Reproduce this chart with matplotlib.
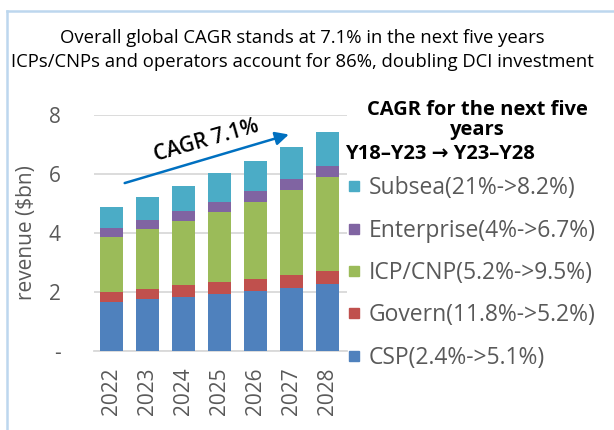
import matplotlib
matplotlib.use("Agg")
import matplotlib.pyplot as plt
from matplotlib.lines import Line2D
import numpy as np

plt.rcParams['font.family'] = ['Open Sans', 'DejaVu Sans']

# revenue by segment ($bn)
years = ['2022', '2023', '2024', '2025', '2026', '2027', '2028']
csp = [1.67, 1.75, 1.83, 1.94, 2.03, 2.14, 2.26]
govern = [0.34, 0.35, 0.40, 0.41, 0.42, 0.44, 0.46]
icp_cnp = [1.85, 2.04, 2.18, 2.37, 2.61, 2.87, 3.16]
enterprise = [0.29, 0.31, 0.32, 0.34, 0.36, 0.37, 0.39]
subsea = [0.72, 0.76, 0.86, 0.96, 1.02, 1.08, 1.14]

segments = [csp, govern, icp_cnp, enterprise, subsea]
labels = ['CSP(2.4%->5.1%)', 'Govern(11.8%->5.2%)', 'ICP/CNP(5.2%->9.5%)',
          'Enterprise(4%->6.7%)', 'Subsea(21%->8.2%)']
colors = ['#4F81BD', '#C0504D', '#9BBB59', '#8064A2', '#4BACC6']

yticks = [0, 2, 4, 6, 8]
ytick_labels = ['-', '2', '4', '6', '8']

fig = plt.figure(figsize=(6.14, 4.30), dpi=100)
ax = fig.add_axes([0.153, 0.184, 0.412, 0.549])

x = np.arange(len(years))
bottom = np.zeros(len(years))
for vals, c in zip(segments, colors):
    ax.bar(x, vals, width=0.64, bottom=bottom, color=c, zorder=3)
    bottom += np.array(vals)

ax.set_xlim(-0.49, 6.54)
ax.set_ylim(0, 8)
ax.set_yticks(yticks)
ax.set_yticklabels(ytick_labels)
ax.set_xticks(x)
ax.set_xticklabels(years, rotation=90)
ax.tick_params(axis='both', length=0, labelsize=15, colors='#595959')
ax.tick_params(axis='y', pad=24)
ax.tick_params(axis='x', pad=12)
ax.grid(axis='y', color='#D9D9D9', lw=1.3, zorder=0)
for s in ['top', 'right', 'left']:
    ax.spines[s].set_visible(False)
ax.spines['bottom'].set_color('#D9D9D9')
ax.spines['bottom'].set_linewidth(1.3)
ax.set_ylabel('revenue ($bn)', fontsize=15, color='#595959', labelpad=8)

# growth arrow
ax.annotate('', xy=(5.0, 7.36), xytext=(0.29, 5.66),
            arrowprops=dict(arrowstyle='-|>', color='#0070C0', lw=1.8, mutation_scale=20),
            annotation_clip=False, zorder=5)
ax.text(2.65, 7.12, 'CAGR 7.1%', fontsize=15, fontweight='semibold', rotation=16,
        ha='center', va='center', color='black', zorder=6)

# legend, top segment first
handles = [Line2D([], [], marker='s', linestyle='none', color=c, markersize=7)
           for c in colors][::-1]
leg = fig.legend(handles, labels[::-1], loc='upper left', bbox_to_anchor=(0.565, 0.59),
                 frameon=False, fontsize=16.5, labelcolor='#595959', handlelength=0.6,
                 handletextpad=0.35, labelspacing=0.8, borderaxespad=0, borderpad=0)

fig.text(0.778, 0.722, 'CAGR for the next five\nyears', ha='center', va='center',
         fontsize=14.5, fontweight='bold', linespacing=1.0)
fig.text(0.562, 0.642, 'Y18–Y23 → Y23–Y28', ha='left', va='center',
         fontsize=14.5, fontweight='bold')

# headline
fig.text(0.493, 0.911, 'Overall global CAGR stands at 7.1% in the next five years',
         ha='center', va='center', fontsize=13.3)
fig.text(0.493, 0.856, 'ICPs/CNPs and operators account for 86%, doubling DCI investment',
         ha='center', va='center', fontsize=13.3)

# light frame on the left and top
fig.add_artist(Line2D([7 / 614, 7 / 614], [0, 1 - 11 / 430], color='#BDD7EE', lw=1.8,
                      transform=fig.transFigure))
fig.add_artist(Line2D([7 / 614, 1], [1 - 11 / 430, 1 - 11 / 430], color='#BDD7EE', lw=1.8,
                      transform=fig.transFigure))

fig.savefig('out.png', dpi=100)
